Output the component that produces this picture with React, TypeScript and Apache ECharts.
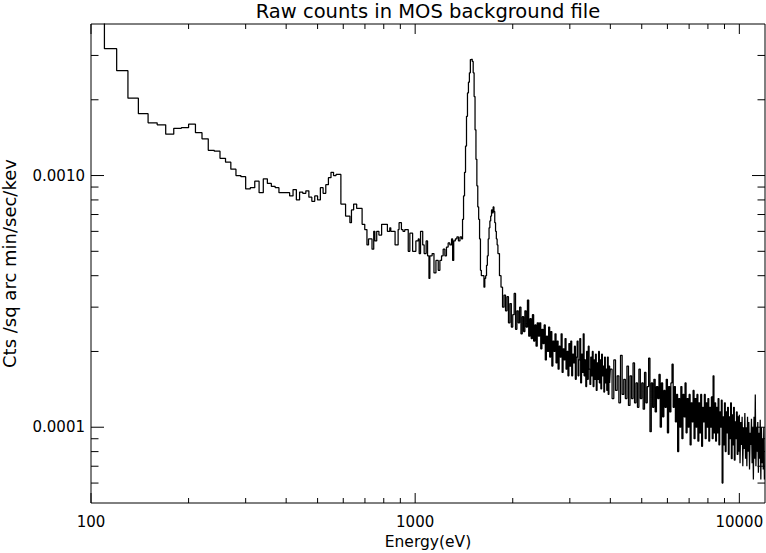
import React, { useEffect, useRef } from "react";
import * as echarts from "echarts";

const TITLE = "Raw counts in MOS background file";
const X_NAME = "Energy(eV)";
const Y_NAME = "Cts /sq arc min/sec/kev";

const X_MIN = 100;
const X_MAX = 12000;
const Y_MIN = 5e-5;
const Y_MAX = 4e-3;

const xMajorTicks = [100, 1000, 10000];
const xMajorLabels = ["100", "1000", "10000"];
const xMinorTicks = [200, 300, 400, 500, 600, 700, 800, 900, 2000, 3000, 4000, 5000, 6000, 7000, 8000, 9000];
const yMajorTicks = [1e-4, 1e-3];
const yMajorLabels = ["0.0001", "0.0010"];
const yMinorTicks = [6e-5, 7e-5, 8e-5, 9e-5, 2e-4, 3e-4, 4e-4, 5e-4, 6e-4, 7e-4, 8e-4, 9e-4, 2e-3, 3e-3];

// rates are given in units of 1e-4 cts / sq arcmin / s / keV
const RATE_UNIT = 1e-4;

// soft band: lower bin edges (eV) and rates
const softEnergies = [
  100, 110, 120, 130, 140, 150, 160, 170, 180, 190,
  200, 210, 220, 230, 240, 250, 260, 270, 280, 290,
  300, 310, 320, 330, 340, 350, 360, 370, 380, 390,
  400, 410, 420, 430, 440, 450, 460, 470, 480, 490,
  500, 510, 520, 530, 540, 550, 560, 570, 580,
  590, 610, 629, 636, 646, 660, 686, 699, 710, 718,
  736, 745, 751, 761, 773, 788, 821, 835, 841, 867,
  886, 892, 907, 917, 929, 952, 963, 982, 1005, 1022,
  1029, 1039, 1055, 1066, 1081, 1092, 1103, 1110, 1128, 1143,
  1159, 1178, 1192, 1206, 1220, 1235, 1249, 1264,
  1279, 1295, 1305, 1315, 1330, 1345, 1360, 1375, 1390,
  1400, 1410, 1420, 1430, 1440, 1450, 1460, 1470, 1480, 1490,
  1500, 1510, 1520, 1530, 1540, 1550, 1560, 1570, 1580, 1590,
  1600, 1610, 1620, 1630, 1640, 1650, 1660, 1670, 1680, 1690,
  1700, 1710, 1720, 1730, 1740, 1750, 1760, 1770, 1780, 1790,
];
const softRates = [
  48, 31.9, 26.1, 20.3, 17.6, 16.2, 15.9, 14.6, 15.4, 15.5,
  16.0, 14.8, 14.0, 12.6, 12.5, 11.7, 11.3, 10.6, 10.0, 9.9,
  8.85, 8.95, 9.5, 8.55, 9.7, 9.3, 9.05, 8.95, 8.55, 8.55,
  8.55, 8.3, 8.8, 8.0, 8.6, 8.5, 8.7, 8.2, 7.9, 8.3,
  8.0, 8.95, 8.5, 9.2, 9.8, 10.3, 10.0, 10.1, 10.1,
  7.7, 6.9, 6.5, 7.3, 7.7, 7.4, 6.4, 6.1, 5.3, 5.6,
  5.1, 6.0, 5.5, 6.0, 5.8, 6.4, 6.0, 6.2, 6.0, 5.3,
  6.1, 6.5, 6.1, 6.0, 6.1, 5.0, 5.9, 5.0, 5.5, 5.6,
  4.9, 6.0, 5.3, 4.9, 5.5, 4.8, 3.9, 4.8, 4.9, 4.1,
  4.6, 4.2, 4.6, 4.8, 5.1, 4.8, 5.2, 5.4,
  5.3, 5.6, 4.6, 5.5, 5.6, 5.7, 5.5, 5.7, 5.6,
  6.7, 8.3, 10.3, 13.1, 17.2, 21.3, 23.5, 25.6, 28.9, 29.0,
  28.4, 25.6, 20.6, 15.2, 11.6, 9.1, 7.5, 6.7, 5.6, 4.2,
  4.0, 4.0, 4.0, 3.6, 3.9, 4.0, 4.4, 4.8, 5.6, 6.2,
  6.6, 6.9, 7.3, 7.1, 7.5, 7.2, 6.5, 6.0, 5.6, 5.3,
];

// hard band, first channel group: 20 eV channels from 1800 eV
const hard1Start = 1800;
const hard1Width = 20;
const hard1Rates = [
  4.9, 4.0, 3.6, 3.0, 3.35,
  2.9, 3.3, 2.6, 3.1, 2.5,
  2.8, 3.4, 2.45, 2.9, 2.6,
  3.0, 2.35, 2.75, 2.4, 2.9,
  2.5, 3.2, 2.3, 2.7, 2.25,
  2.8, 2.2, 2.55, 2.1, 2.6,
  2.3, 2.6, 2.05, 2.45, 2.15,
  2.55, 1.85, 2.3, 2.0, 2.5,
  1.9, 2.4, 1.75, 2.2, 2.0,
  2.35, 1.8, 2.2, 1.7, 2.1,
  1.9, 2.35, 1.65, 2.05, 1.85,
  2.25, 1.7, 2.0, 1.6, 2.15,
  1.75, 2.2, 1.6, 1.95, 1.8,
  2.1, 1.55, 1.9, 2.2, 1.6,
  1.85, 2.25, 1.5, 1.95, 1.65,
  2.35, 1.6, 1.85, 1.45, 2.0,
  1.55, 2.1, 1.7, 1.48, 1.9,
  1.6, 2.0, 1.45, 1.85, 1.55,
  1.95, 1.4, 1.8, 1.55, 2.0,
  1.5, 1.85, 1.42, 1.95, 1.6,
  1.75, 1.38, 1.9, 1.5, 1.7,
  1.4, 1.9, 1.35, 1.75, 1.5,
];

// hard band, second channel group: 50 eV channels from 4000 eV
const hard2Start = 4000;
const hard2Width = 50;
const hard2Rates = [
  1.7, 1.3, 1.85, 1.4, 1.6, 1.25, 1.93, 1.35, 1.55, 1.3,
  1.75, 1.22, 1.6, 1.3, 1.8, 1.25, 1.5, 1.2, 1.7, 1.3,
  1.5, 1.18, 1.65, 1.25, 1.45, 1.88, 0.96, 1.5, 1.2, 1.55,
  1.15, 1.45, 1.3, 1.62, 1.0, 1.5, 1.1, 1.4, 1.2, 1.55,
  0.95, 1.45, 1.15, 1.5, 1.78, 1.2, 1.45, 1.05, 1.35, 0.8,
  1.3, 1.0, 1.45, 0.9, 1.35, 1.1, 1.5, 0.95, 1.3, 1.0,
  1.35, 0.85, 1.25, 1.05, 1.4, 0.9, 1.3, 1.0, 1.35, 0.88,
  1.25, 0.95, 1.35, 0.84, 1.2, 1.05, 1.35, 0.9, 1.25, 1.0,
  1.3, 0.88, 1.2, 1.0, 1.32, 0.9, 1.6, 0.95, 1.25, 0.88,
  1.2, 0.95, 1.3, 0.85, 1.15, 1.0, 1.28, 0.6, 1.1, 0.85,
  1.25, 0.8, 1.15, 0.95, 1.2, 0.78, 1.1, 0.9, 1.25, 0.75,
  1.12, 0.85, 1.2, 0.74, 1.05, 0.9, 1.15, 0.78, 1.1, 0.8,
  1.12, 0.72, 1.05, 0.85, 1.1, 0.7, 1.0, 0.82, 1.14, 0.75,
  1.0, 0.7, 1.1, 0.8, 1.05, 0.68, 0.95, 0.85, 1.08, 0.72,
  1.0, 0.62, 1.1, 0.75, 1.35, 0.7, 1.0, 0.8, 1.05, 0.66,
  0.95, 0.75, 1.07, 0.62, 1.0, 0.72, 0.9, 0.68, 1.0, 0.62,
];

const FONT = "DejaVu Sans";

function buildSpectrum(): [number, number][] {
  const pts: [number, number][] = [];
  softEnergies.forEach((e, i) => pts.push([e, softRates[i] * RATE_UNIT]));
  hard1Rates.forEach((r, i) => pts.push([hard1Start + i * hard1Width, r * RATE_UNIT]));
  hard2Rates.forEach((r, i) => pts.push([hard2Start + i * hard2Width, r * RATE_UNIT]));
  pts.push([X_MAX, hard2Rates[hard2Rates.length - 1] * RATE_UNIT]);
  return pts;
}

function labelFor(v: number, ticks: number[], labels: string[]): string {
  for (let i = 0; i < ticks.length; i++) {
    if (Math.abs(v - ticks[i]) / ticks[i] < 1e-6) return labels[i];
  }
  return "";
}

export default function App() {
  const ref = useRef<HTMLDivElement>(null);
  useEffect(() => {
    if (!ref.current) return;
    const chart = echarts.init(ref.current, null, { renderer: "svg" });
    const xTickData = [
      ...xMajorTicks.map((v) => [v, 1e-3, 1]),
      ...xMinorTicks.map((v) => [v, 1e-3, 0]),
    ];
    const yTickData = [
      ...yMajorTicks.map((v) => [1000, v, 1]),
      ...yMinorTicks.map((v) => [1000, v, 0]),
    ];
    const stroke = { stroke: "#000", lineWidth: 1 };
    chart.setOption({
      animation: false,
      backgroundColor: "#fff",
      textStyle: { fontFamily: FONT, color: "#000" },
      grid: {
        left: 91,
        right: 1,
        top: 24,
        bottom: 50,
        containLabel: false,
        outerBoundsMode: "none",
        show: true,
        borderColor: "#000",
        borderWidth: 1,
        backgroundColor: "transparent",
      },
      graphic: [
        {
          type: "text",
          x: 428,
          y: 1,
          style: {
            text: TITLE,
            fontFamily: FONT,
            fontSize: 19.5,
            fill: "#000",
            textAlign: "center",
            textVerticalAlign: "top",
          },
        },
      ],
      xAxis: {
        type: "log",
        logBase: 10,
        min: X_MIN,
        max: X_MAX,
        name: X_NAME,
        nameLocation: "middle",
        nameGap: 30,
        nameTextStyle: { fontFamily: FONT, fontSize: 15.5, color: "#000" },
        axisLine: { show: false },
        axisTick: { show: false },
        splitLine: { show: false },
        axisLabel: {
          margin: 11,
          fontFamily: FONT,
          fontSize: 15,
          color: "#000",
          hideOverlap: false,
          formatter: (v: number) => labelFor(v, xMajorTicks, xMajorLabels),
        },
      },
      yAxis: {
        type: "log",
        logBase: 10,
        min: Y_MIN,
        max: Y_MAX,
        name: Y_NAME,
        nameLocation: "middle",
        nameGap: 73,
        nameTextStyle: { fontFamily: FONT, fontSize: 18, color: "#000" },
        axisLine: { show: false },
        axisTick: { show: false },
        splitLine: { show: false },
        axisLabel: {
          margin: 6,
          fontFamily: FONT,
          fontSize: 15,
          color: "#000",
          formatter: (v: number) => labelFor(v, yMajorTicks, yMajorLabels),
        },
      },
      series: [
        {
          type: "line",
          step: "end",
          data: buildSpectrum(),
          showSymbol: false,
          symbol: "none",
          clip: true,
          lineStyle: { color: "#000", width: 1.25 },
          z: 3,
        },
        {
          type: "custom",
          clip: false,
          silent: true,
          encode: { x: 0, y: 1 },
          data: xTickData,
          renderItem: (params: any, api: any) => {
            const cs = params.coordSys;
            const px = api.coord([api.value(0), api.value(1)])[0];
            const len = api.value(2) ? 10 : 5;
            const bottom = cs.y + cs.height;
            return {
              type: "group",
              children: [
                { type: "line", shape: { x1: px, y1: bottom, x2: px, y2: bottom - len }, style: stroke },
                { type: "line", shape: { x1: px, y1: cs.y, x2: px, y2: cs.y + len }, style: stroke },
              ],
            };
          },
          z: 4,
        },
        {
          type: "custom",
          clip: false,
          silent: true,
          encode: { x: 0, y: 1 },
          data: yTickData,
          renderItem: (params: any, api: any) => {
            const cs = params.coordSys;
            const py = api.coord([api.value(0), api.value(1)])[1];
            const len = api.value(2) ? 13 : 7.5;
            const right = cs.x + cs.width;
            return {
              type: "group",
              children: [
                { type: "line", shape: { x1: cs.x, y1: py, x2: cs.x + len, y2: py }, style: stroke },
                { type: "line", shape: { x1: right, y1: py, x2: right - len, y2: py }, style: stroke },
              ],
            };
          },
          z: 4,
        },
      ],
    });
    return () => chart.dispose();
  }, []);
  return (
    <div
      ref={ref}
      style={{ position: "fixed", left: 0, top: 0, width: 766, height: 553, background: "#fff" }}
    />
  );
}
